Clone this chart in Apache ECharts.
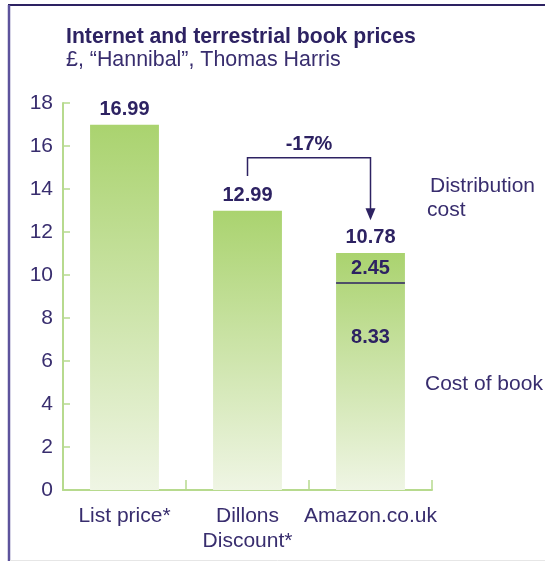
<!DOCTYPE html>
<html>
<head>
<meta charset="utf-8">
<script src="https://cdn.jsdelivr.net/npm/echarts@6/dist/echarts.min.js"></script>
<style>
  html, body { margin: 0; padding: 0; background: #fff; }
  #chart { width: 545px; height: 561px; }
</style>
</head>
<body>
<div id="chart"></div>
<script>
// data
const categories = ['List price*', 'Dillons\nDiscount*', 'Amazon.co.uk']
const costOfBook = [16.99, 12.99, 9.63]
const distributionCost = ['-', '-', 1.39]
const totalLabels = ['16.99', '12.99', '10.78']
const segmentLabels = ['2.45', '8.33']
const yTicks = { min: 0, max: 18, step: 2 }
// bracket from Dillons to Amazon: [category index, value]
const bracket = [[1, 14.6], [1, 15.45], [2, 15.45], [2, 12.55]]
const bracketLabel = '-17%'

const navy = '#2d2262'
const textColor = '#382d6e'
const green = '#b7da8e'
const topGreen = '#aad36f'
const paleGreen = '#eff5e4'
const font = 'Liberation Sans'

const grad = (from, to) => new echarts.graphic.LinearGradient(0, 0, 0, 1, [
  { offset: 0, color: from },
  { offset: 1, color: to }
])
const midGreen = '#b3d77e'

const chart = echarts.init(document.getElementById('chart'))

const option = {
  animation: false,
  textStyle: { fontFamily: font },
  title: {
    text: 'Internet and terrestrial book prices',
    subtext: '£, “Hannibal”, Thomas Harris',
    left: 61,
    top: 22,
    itemGap: 2,
    textStyle: { fontSize: 21.2, fontWeight: 'bold', color: navy, fontFamily: font },
    subtextStyle: { fontSize: 21.4, color: textColor, fontFamily: font }
  },
  grid: { left: 63, right: 113, top: 103, bottom: 71 },
  xAxis: {
    type: 'category',
    data: categories,
    axisLine: { lineStyle: { color: green, width: 2 } },
    axisTick: { show: true, inside: true, length: 10, lineStyle: { color: green, width: 1.5 } },
    axisLabel: { interval: 0, fontSize: 21, color: textColor, margin: 14, lineHeight: 25, fontFamily: font }
  },
  yAxis: {
    type: 'value',
    min: yTicks.min,
    max: yTicks.max,
    interval: yTicks.step,
    axisLine: { show: true, lineStyle: { color: green, width: 2 } },
    axisTick: { show: true, inside: true, length: 7, lineStyle: { color: green, width: 1.5 } },
    splitLine: { show: false },
    axisLabel: { fontSize: 21, color: textColor, margin: 10, fontFamily: font }
  },
  series: [
    {
      name: 'Cost of book',
      type: 'bar',
      stack: 'total',
      barWidth: '56%',
      data: costOfBook.map((v, i) => {
        const last = i === costOfBook.length - 1
        return {
          value: v,
          itemStyle: { color: last ? grad(midGreen, paleGreen) : grad(topGreen, paleGreen) },
          label: last
            ? { position: 'insideTop', distance: 45, formatter: segmentLabels[1] }
            : { position: 'top', formatter: totalLabels[i] }
        }
      }),
      label: {
        show: true,
        fontSize: 20,
        fontWeight: 'bold',
        color: navy,
        fontFamily: font
      }
    },
    {
      name: 'Distribution cost',
      type: 'bar',
      stack: 'total',
      barWidth: '56%',
      itemStyle: { color: grad(topGreen, midGreen) },
      data: distributionCost,
      label: {
        show: true,
        position: 'inside',
        formatter: segmentLabels[0],
        fontSize: 20,
        fontWeight: 'bold',
        color: navy,
        fontFamily: font
      }
    },
    {
      // divider between the two Amazon segments, total label and the bracket arrow
      name: 'notes',
      type: 'custom',
      silent: true,
      z: 5,
      data: [[2, costOfBook[2]]],
      renderItem: (params, api) => {
        const idx = api.value(0)
        const base = api.coord([idx, api.value(1)])
        const half = api.size([1, 0])[0] * 0.56 / 2
        const topPt = api.coord([idx, costOfBook[idx] + distributionCost[idx]])
        const pts = bracket.map(p => api.coord(p))
        const tip = pts[pts.length - 1]
        const midX = (pts[1][0] + pts[2][0]) / 2
        return {
          type: 'group',
          children: [
            {
              type: 'line',
              shape: { x1: base[0] - half, y1: base[1], x2: base[0] + half, y2: base[1] },
              style: { stroke: navy, lineWidth: 1.5 }
            },
            {
              type: 'text',
              x: topPt[0],
              y: topPt[1] - 6,
              style: {
                text: totalLabels[idx], fontSize: 20, fontWeight: 'bold', fill: navy,
                fontFamily: font, align: 'center', verticalAlign: 'bottom'
              }
            },
            {
              type: 'polyline',
              shape: { points: pts.slice(0, -1).concat([[tip[0], tip[1] - 10]]) },
              style: { stroke: navy, lineWidth: 1.5, fill: null }
            },
            {
              type: 'polygon',
              shape: { points: [[tip[0] - 5, tip[1] - 12], [tip[0] + 5, tip[1] - 12], [tip[0], tip[1]]] },
              style: { fill: navy }
            },
            {
              type: 'text',
              x: midX,
              y: pts[1][1] - 3,
              style: {
                text: bracketLabel, fontSize: 20, fontWeight: 'bold', fill: navy,
                fontFamily: font, align: 'center', verticalAlign: 'bottom'
              }
            }
          ]
        }
      }
    }
  ],
  graphic: [
    { type: 'line', shape: { x1: 8, y1: 5, x2: 545, y2: 5 }, style: { stroke: navy, lineWidth: 2 } },
    { type: 'line', shape: { x1: 9, y1: 5, x2: 9, y2: 561 }, style: { stroke: '#5d539c', lineWidth: 2.5 } },
    { type: 'line', shape: { x1: 10, y1: 560.5, x2: 545, y2: 560.5 }, style: { stroke: '#e6e6e6', lineWidth: 1 } },
    {
      type: 'text', left: 430, top: 176,
      style: { text: 'Distribution', fontSize: 21, fill: textColor, fontFamily: font }
    },
    {
      type: 'text', left: 427, top: 200,
      style: { text: 'cost', fontSize: 21, fill: textColor, fontFamily: font }
    },
    {
      type: 'text', left: 425, top: 374,
      style: { text: 'Cost of book', fontSize: 21, fill: textColor, fontFamily: font }
    }
  ]
}

chart.setOption(option)
</script>
</body>
</html>
